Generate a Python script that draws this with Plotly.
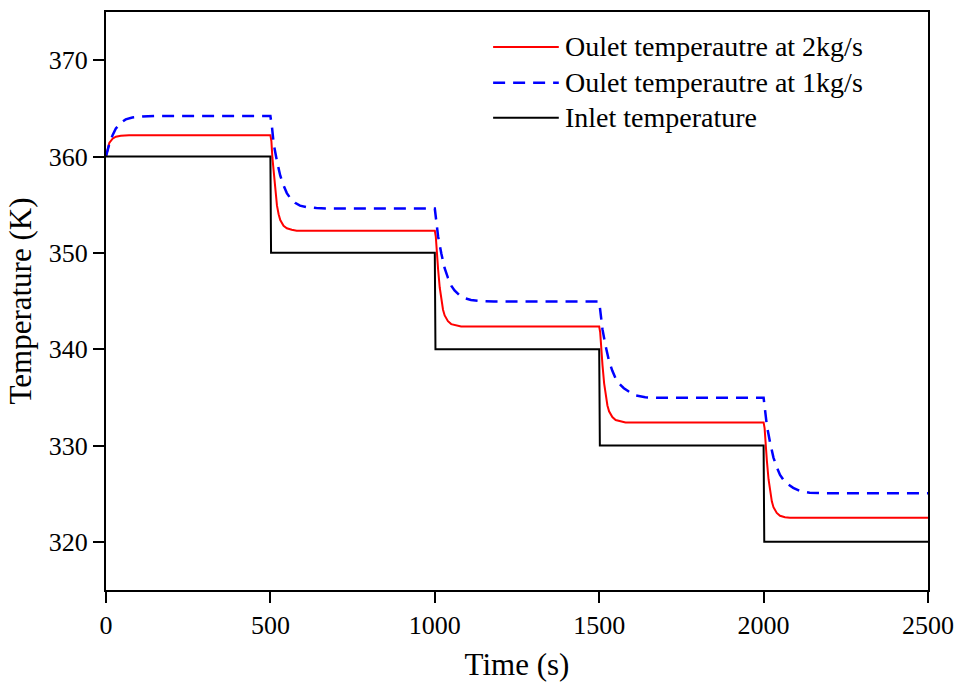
import plotly.graph_objects as go

# Time (s) and temperature (K) values
inlet_t = [0, 500, 502, 1000, 1002, 1500, 1502, 2000, 2002, 2500]
inlet_T = [360, 360, 350, 350, 340, 340, 330, 330, 320, 320]

red_t = [0, 5, 10, 20, 30, 45, 70,
         500, 503, 506, 510, 515, 520, 525, 530, 540, 550, 565, 580, 600,
         1000, 1003, 1006, 1010, 1015, 1020, 1025, 1030, 1040, 1050, 1065, 1080, 1100,
         1500, 1503, 1506, 1510, 1515, 1520, 1525, 1530, 1540, 1550, 1565, 1580, 1600,
         2000, 2003, 2006, 2010, 2015, 2020, 2025, 2030, 2040, 2050, 2065, 2080, 2100,
         2500]
red_T = [360.0, 360.9, 361.4, 361.85, 362.05, 362.15, 362.2,
         362.2, 361.6, 359.9, 358.2, 356.3, 354.9, 354.0, 353.4, 352.8, 352.55, 352.4, 352.3, 352.3,
         352.3, 351.7, 350.0, 348.3, 346.4, 345.0, 344.1, 343.5, 342.9, 342.6, 342.45, 342.35, 342.35,
         342.35, 341.75, 340.05, 338.35, 336.45, 335.05, 334.15, 333.55, 332.95, 332.65, 332.5, 332.4, 332.4,
         332.4, 331.8, 330.1, 328.4, 326.5, 325.1, 324.2, 323.6, 323.0, 322.7, 322.55, 322.5, 322.5,
         322.5]

blue_t = [0, 10, 20, 30, 45, 60, 80, 110, 150,
          500, 505, 510, 520, 530, 540, 550, 560, 575, 590, 610, 640, 680,
          1000, 1005, 1010, 1020, 1030, 1040, 1050, 1060, 1075, 1090, 1110, 1140, 1180,
          1500, 1505, 1510, 1520, 1530, 1540, 1550, 1560, 1575, 1590, 1610, 1640, 1680,
          2000, 2005, 2010, 2020, 2030, 2040, 2050, 2060, 2075, 2090, 2110, 2140, 2180,
          2500]
blue_T = [360.0, 361.3, 362.2, 362.9, 363.5, 363.85, 364.05, 364.15, 364.2,
          364.2, 363.0, 361.3, 359.5, 358.0, 357.0, 356.2, 355.7, 355.2, 354.9, 354.75, 354.65, 354.6,
          354.6, 353.4, 351.7, 349.9, 348.4, 347.4, 346.6, 346.1, 345.6, 345.3, 345.1, 345.0, 344.95,
          344.95, 343.75, 342.05, 340.25, 338.75, 337.75, 336.95, 336.45, 335.95, 335.6, 335.2, 335.0, 334.95,
          334.95, 333.75, 332.05, 330.25, 328.75, 327.75, 326.95, 326.45, 325.95, 325.6, 325.3, 325.1, 325.05,
          325.05]

x_ticks = [0, 500, 1000, 1500, 2000, 2500]
y_ticks = [320, 330, 340, 350, 360, 370]

series_names = ["Oulet temperautre at 2kg/s", "Oulet temperautre at 1kg/s", "Inlet temperature"]
series_colors = ["#ff0000", "#0000ff", "#000000"]
series_widths = [2, 2.5, 2]
series_dash = ["solid", "12px,8px", "solid"]

FONT = "Liberation Serif"

fig = go.Figure()
for (t, T), name, c, w, d in zip([(red_t, red_T), (blue_t, blue_T), (inlet_t, inlet_T)],
                                 series_names, series_colors, series_widths, series_dash):
    fig.add_trace(go.Scatter(x=t, y=T, mode="lines", name=name,
                             line=dict(color=c, width=w, dash=d), showlegend=False))

# manual legend (paper coordinates) to match the compact spacing of the reference
PL, PW, PT, PH = 106, 826, 10, 580
def px(xp):
    return (xp - PL) / PW
def py(yp):
    return (PT + PH - yp) / PH

row_y = [45, 81, 116]
for yy, name, c, w, d in zip(row_y, series_names, series_colors, series_widths, series_dash):
    fig.add_shape(type="line", xref="paper", yref="paper",
                  x0=px(495), x1=px(561), y0=py(yy), y1=py(yy),
                  line=dict(color=c, width=w, dash=d))
    fig.add_annotation(xref="paper", yref="paper", x=px(565), y=py(yy),
                       xanchor="left", yanchor="middle", text=name, showarrow=False,
                       font=dict(family=FONT, size=28, color="black"))

axis_common = dict(showline=True, linecolor="black", linewidth=2, mirror=True,
                   ticks="outside", ticklen=11, tickwidth=2, tickcolor="black",
                   showgrid=False, zeroline=False,
                   tickfont=dict(family=FONT, size=26, color="black"))

fig.update_layout(
    width=964, height=689,
    margin=dict(l=106, r=32, t=10, b=99),
    paper_bgcolor="white", plot_bgcolor="white",
    font=dict(family=FONT, color="black"),
    xaxis=dict(range=[0, 2500], tickvals=x_ticks,
               title=dict(text="Time (s)", font=dict(family=FONT, size=31), standoff=14),
               **axis_common),
    yaxis=dict(range=[315, 375], tickvals=y_ticks,
               title=dict(text="Temperature (K)", font=dict(family=FONT, size=31), standoff=8),
               **axis_common),
    showlegend=False,
)

fig.write_html("out.html")
